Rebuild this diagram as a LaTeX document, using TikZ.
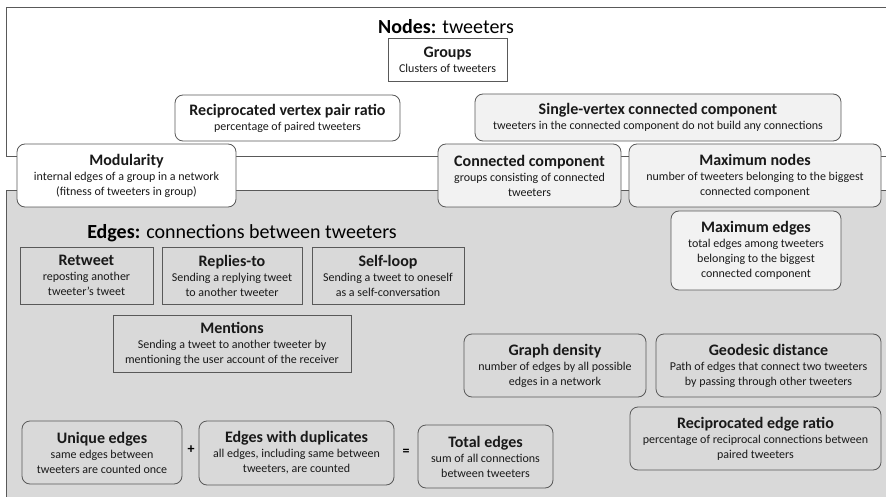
\documentclass[tikz,border=0pt]{standalone}
\usepackage{fontspec}
\setmainfont{Carlito}
\usetikzlibrary{positioning}

\definecolor{panelgray}{HTML}{D9D9D9}
\definecolor{boxlight}{HTML}{F2F2F2}
\definecolor{rim}{HTML}{595959}
\newcommand{\hd}[1]{{\fontsize{16}{18}\selectfont\bfseries #1}}

\begin{document}
\begin{tikzpicture}[
  x=1pt,y=-1pt,
  panel/.style={draw=rim, line width=0.8pt},
  metric/.style={draw=rim, rounded corners=8pt, line width=0.8pt, align=center,
    inner sep=1pt, minimum height=63pt, text=black!90,
    font=\fontsize{12}{15}\selectfont},
  kind/.style={draw=rim, line width=0.8pt, fill=panelgray, align=center,
    inner sep=1pt, minimum height=57pt, text=black!90,
    font=\fontsize{12}{15}\selectfont},
  heading/.style={font=\fontsize{20}{24}\selectfont},
  op/.style={font=\fontsize{14}{16}\selectfont\bfseries}
]
\clip (0,0) rectangle (886,497);
\fill[white] (0,0) rectangle (886,497);

% Two panels: nodes (white) and edges (gray)
\draw[panel, fill=white] (6,7) rectangle (900,156);
\draw[panel, fill=panelgray] (6,190) rectangle (900,510);

% Nodes panel
\node[heading] (nodestitle) at (446,27) {\textbf{Nodes:} tweeters};
\node[kind, fill=white, minimum width=119pt, minimum height=43pt] (groups) at (447.5,59.5)
  {\hd{Groups}\\Clusters of tweeters};
\node[metric, fill=white, minimum width=225pt, minimum height=46pt] (vpair) at (287.5,118)
  {\hd{Reciprocated vertex pair ratio}\\percentage of paired tweeters};
\node[metric, fill=boxlight, minimum width=366pt, minimum height=47pt] (single) at (658,117.5)
  {\hd{Single-vertex connected component}\\tweeters in the connected component do not build any connections};

% Boxes across the two panels
\node[metric, fill=white, minimum width=219pt] (modul) at (126.5,175.5)
  {\hd{Modularity}\\internal edges of a group in a network\\(fitness of tweeters in group)};
\node[metric, fill=boxlight, minimum width=183pt] (concomp) at (529.5,175.5)
  {\hd{Connected component}\\groups consisting of connected\\tweeters};
\node[metric, fill=boxlight, minimum width=252pt] (maxnodes) at (755,175.5)
  {\hd{Maximum nodes}\\number of tweeters belonging to the biggest\\connected component};
\node[metric, fill=boxlight, minimum width=170pt, minimum height=79pt] (maxedges) at (756,250.5)
  {\hd{Maximum edges}\\total edges among tweeters\\belonging to the biggest\\connected component};

% Edges panel: edge types
\node[heading] (edgestitle) at (242,233) {\textbf{Edges:} connections between tweeters};
\node[kind, minimum width=133pt] (retweet) at (86.5,275.5)
  {\hd{Retweet}\\reposting another\\tweeter’s tweet};
\node[kind, minimum width=140pt] (replies) at (232,275.5)
  {\hd{Replies-to}\\Sending a replying tweet\\to another tweeter};
\node[kind, minimum width=152pt] (selfloop) at (388,275.5)
  {\hd{Self-loop}\\Sending a tweet to oneself\\as a self-conversation};
\node[kind, minimum width=238pt] (mentions) at (232,343.5)
  {\hd{Mentions}\\Sending a tweet to another tweeter by\\mentioning the user account of the receiver};

% Edges panel: measures
\node[metric, fill=panelgray, minimum width=182pt] (density) at (555,365.5)
  {\hd{Graph density}\\number of edges by all possible\\edges in a network};
\node[metric, fill=panelgray, minimum width=225pt] (geodesic) at (768.5,365.5)
  {\hd{Geodesic distance}\\Path of edges that connect two tweeters\\by passing through other tweeters};
\node[metric, fill=panelgray, minimum width=251pt] (recedge) at (755.5,438.5)
  {\hd{Reciprocated edge ratio}\\percentage of reciprocal connections between\\paired tweeters};

% Unique + duplicates = total
\node[metric, fill=panelgray, minimum width=160pt] (unique) at (102,452.5)
  {\hd{Unique edges}\\same edges between\\tweeters are counted once};
\node[op] (plus) at (191,450) {+};
\node[metric, fill=panelgray, minimum width=195pt, minimum height=64pt] (dupl) at (296.5,453)
  {\hd{Edges with duplicates}\\all edges, including same between\\tweeters, are counted};
\node[op] (equals) at (406,452) {=};
\node[metric, fill=panelgray, minimum width=135pt] (total) at (485.5,456.5)
  {\hd{Total edges}\\sum of all connections\\between tweeters};

\end{tikzpicture}
\end{document}
